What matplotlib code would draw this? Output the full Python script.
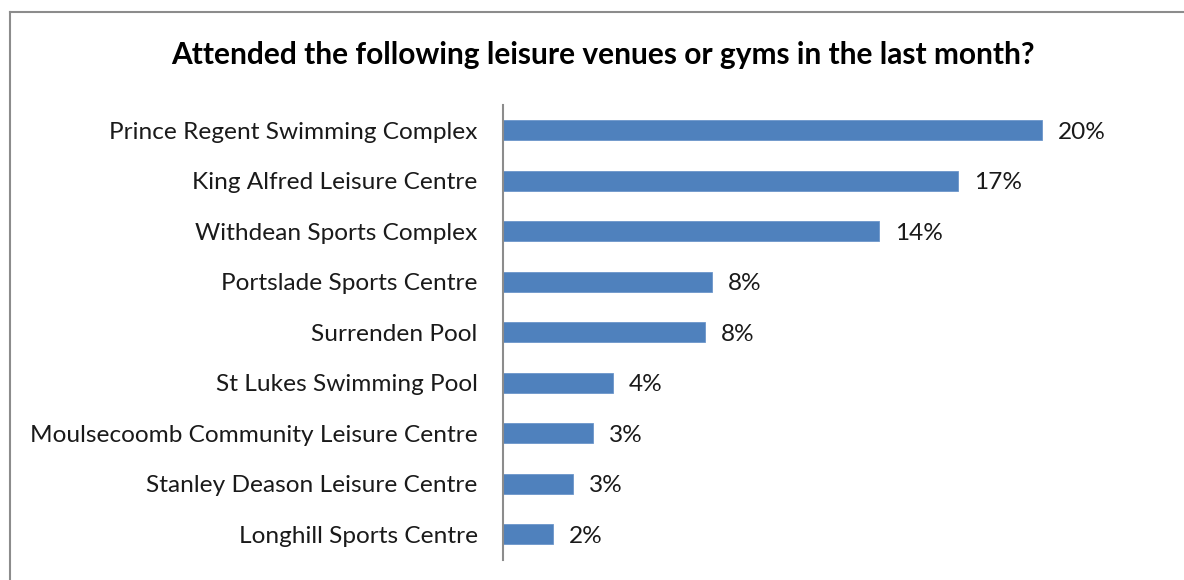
import matplotlib
matplotlib.use("Agg")
import matplotlib.pyplot as plt
from matplotlib.lines import Line2D

categories = ["Prince Regent Swimming Complex", "King Alfred Leisure Centre",
              "Withdean Sports Complex", "Portslade Sports Centre", "Surrenden Pool",
              "St Lukes Swimming Pool", "Moulsecoomb Community Leisure Centre",
              "Stanley Deason Leisure Centre", "Longhill Sports Centre"]
values = [20.0, 16.9, 13.95, 7.75, 7.5, 4.1, 3.35, 2.6, 1.85]
value_labels = ["20%", "17%", "14%", "8%", "8%", "4%", "3%", "3%", "2%"]

plt.rcParams['font.family'] = ['Lato', 'DejaVu Sans']

W, H = 1184, 580
fig = plt.figure(figsize=(W / 100, H / 100), dpi=100)
fig.patch.set_facecolor("white")

px = 26.95
left = 502.7
ax = fig.add_axes([left / W, 1 - 559.5 / H, 24 * px / W, 454.5 / H])
y = list(range(len(categories)))
ax.barh(y, values, height=0.4, color="#4F81BD", edgecolor="#6C96CB", linewidth=0.6)
ax.set_xlim(0, 24)
ax.set_ylim(8.5, -0.5)
ax.set_yticks(y)
ax.set_yticklabels(categories, fontsize=17.6, color="#1a1a1a")
ax.tick_params(axis="y", length=0, pad=18)
ax.set_xticks([])
for s in ["top", "right", "bottom"]:
    ax.spines[s].set_visible(False)
ax.spines["left"].set_color("#8c8c8c")
ax.spines["left"].set_linewidth(1.5)

for yi, v, lab in zip(y, values, value_labels):
    ax.annotate(lab, xy=(v, yi), xytext=(16, -2), textcoords="offset pixels",
                va="center", ha="left", fontsize=17.6, color="#1a1a1a")

fig.text(603 / W, 1 - 55 / H, "Attended the following leisure venues or gyms in the last month?",
         ha="center", va="center", fontsize=21.5, fontweight="bold", color="#000000")

# outer frame (left and top visible)
fig.add_artist(Line2D([10 / W, 10 / W], [0, 1 - 12 / H], transform=fig.transFigure,
                      color="#8c8c8c", linewidth=1.5))
fig.add_artist(Line2D([10 / W, 1], [1 - 12 / H, 1 - 12 / H], transform=fig.transFigure,
                      color="#8c8c8c", linewidth=1.5))

fig.savefig("out.png", dpi=100, facecolor="white")
